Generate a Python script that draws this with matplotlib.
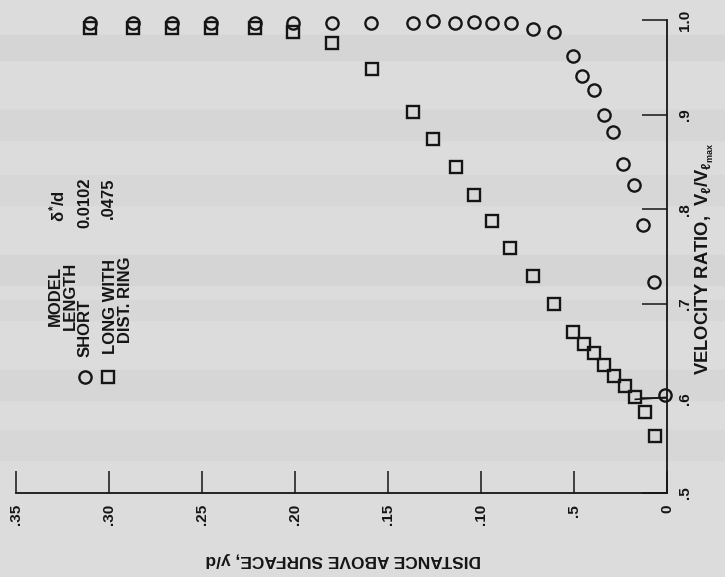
import matplotlib

matplotlib.use("Agg")
import matplotlib.pyplot as plt

# distance above surface y/d and velocity ratio
short_d = [0.310, 0.287, 0.266, 0.245, 0.2215, 0.201, 0.180, 0.159, 0.1365,
           0.126, 0.114, 0.104, 0.094, 0.084, 0.072, 0.061, 0.0505, 0.0455,
           0.0395, 0.034, 0.029, 0.0235, 0.018, 0.0127, 0.007, 0.001]
short_v = [0.997, 0.997, 0.997, 0.997, 0.997, 0.997, 0.997, 0.997, 0.997,
           0.999, 0.997, 0.998, 0.997, 0.9965, 0.9905, 0.987, 0.962, 0.941,
           0.926, 0.900, 0.882, 0.848, 0.826, 0.783, 0.723, 0.604]

long_d = [0.310, 0.287, 0.266, 0.245, 0.2215, 0.201, 0.180, 0.1585, 0.1365,
          0.126, 0.1135, 0.104, 0.094, 0.0845, 0.072, 0.061, 0.0505, 0.0445,
          0.039, 0.034, 0.0285, 0.0225, 0.017, 0.012, 0.0065]
long_v = [0.9915, 0.9915, 0.9915, 0.9915, 0.9915, 0.987, 0.976, 0.948, 0.903,
          0.874, 0.845, 0.8145, 0.787, 0.759, 0.729, 0.700, 0.670, 0.658,
          0.648, 0.635, 0.624, 0.613, 0.602, 0.586, 0.560]

dist_ticks = [0.0, 0.05, 0.10, 0.15, 0.20, 0.25, 0.30, 0.35]
dist_labels = ["0", ".5", ".10", ".15", ".20", ".25", ".30", ".35"]
vel_ticks = [0.5, 0.6, 0.7, 0.8, 0.9, 1.0]
vel_labels = [".5", ".6", ".7", ".8", ".9", "1.0"]

legend_names = ["SHORT", "LONG WITH\n   DIST. RING"]
legend_delta = ["0.0102", ".0475"]

plt.rcParams["font.family"] = ["Liberation Sans", "DejaVu Sans"]
plt.rcParams["font.weight"] = "bold"
plt.rcParams["mathtext.fontset"] = "custom"
plt.rcParams["mathtext.rm"] = "Liberation Sans:bold"
plt.rcParams["mathtext.it"] = "Liberation Sans:bold"
plt.rcParams["mathtext.bf"] = "Liberation Sans:bold"

ink = "#151515"
bg = "#dcdcdc"

W, H = 725, 577
fig = plt.figure(figsize=(W / 100, H / 100), dpi=100, facecolor=bg)

# faint scan bands behind everything
for y0, y1, c in [(35, 60, "#d5d5d5"), (110, 140, "#d6d6d6"), (175, 205, "#d7d7d7"),
                  (255, 285, "#d5d5d5"), (300, 320, "#d7d7d7"), (370, 400, "#d6d6d6"),
                  (430, 460, "#d7d7d7")]:
    fig.patches.append(plt.Rectangle((0, 1 - y1 / H), 1, (y1 - y0) / H,
                                     transform=fig.transFigure, color=c, zorder=-5))

ax = fig.add_axes([16 / W, 1 - 493 / H, 651 / W, 473 / H])
ax.set_facecolor("none")

ax.plot(short_d, short_v, "o", ms=8.8, mfc="none", mec=ink, mew=1.7, clip_on=False)
ax.plot(long_d, long_v, "s", ms=8.8, mfc="none", mec=ink, mew=1.7, clip_on=False)
# small tie line drawn on the original between the low square and the wall circle
ax.plot([long_d[22], short_d[-1]], [long_v[22] - 0.003, short_v[-1] - 0.003],
        color=ink, lw=1.2, clip_on=False)

ax.set_xlim(0.35, 0.0)
ax.set_ylim(0.5, 1.0)

for side in ["top", "left"]:
    ax.spines[side].set_visible(False)
for side in ["right", "bottom"]:
    ax.spines[side].set_color(ink)
    ax.spines[side].set_linewidth(1.3)

ax.yaxis.tick_right()
ax.set_xticks(dist_ticks)
ax.set_xticklabels(dist_labels, rotation=90, fontsize=11)
ax.set_yticks(vel_ticks)
ax.set_yticklabels(vel_labels, rotation=90, fontsize=11, va="center")
ax.tick_params(axis="x", direction="in", length=16, width=1.1, color=ink, pad=8,
               labelcolor=ink)
ax.tick_params(axis="y", direction="in", length=18, width=1.1, color=ink, pad=8,
               labelcolor=ink)

fig.text(343 / W, 1 - 559 / H, "DISTANCE ABOVE SURFACE, y/d", rotation=180,
         ha="center", va="center", fontsize=12.5, color=ink)
fig.text(705 / W, 1 - 259 / H, r"VELOCITY RATIO,  $V_\ell/V_{\ell_{max}}$",
         rotation=90, ha="center", va="center", fontsize=13.2, color=ink)

# rotated key block
fig.text(63 / W, 1 - 330 / H, "MODEL\nLENGTH", rotation=90, ha="center",
         va="bottom", fontsize=12, color=ink, linespacing=1.0, multialignment="center")
fig.text(57 / W, 1 - 222 / H, r"$\delta^{*}$/d", rotation=90, ha="center",
         va="bottom", fontsize=12, color=ink)
fig.text(85 / W, 1 - 357 / H, legend_names[0], rotation=90, ha="center",
         va="bottom", fontsize=12, color=ink)
fig.text(118 / W, 1 - 357 / H, legend_names[1], rotation=90, ha="center",
         va="bottom", fontsize=12, color=ink, linespacing=1.0)
fig.text(85 / W, 1 - 177 / H, legend_delta[0], rotation=90, ha="center",
         va="top", fontsize=12, color=ink)
fig.text(108 / W, 1 - 177 / H, legend_delta[1], rotation=90, ha="center",
         va="top", fontsize=12, color=ink)
fig.lines.append(plt.Line2D([85 / W], [1 - 377 / H], marker="o", ms=8.8, mfc="none",
                            mec=ink, mew=1.7, transform=fig.transFigure))
fig.lines.append(plt.Line2D([108 / W], [1 - 377 / H], marker="s", ms=8.8, mfc="none",
                            mec=ink, mew=1.7, transform=fig.transFigure))

fig.savefig("out.png", dpi=100, facecolor=bg)
